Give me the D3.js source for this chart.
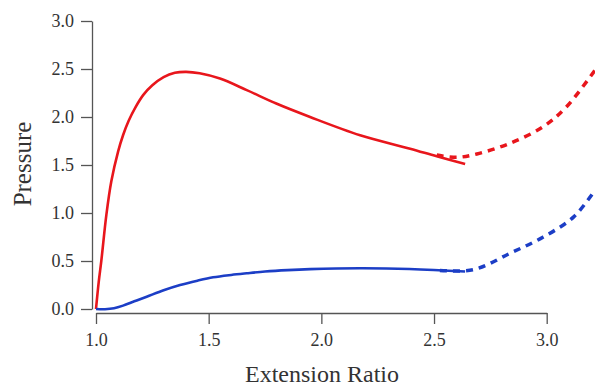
<!DOCTYPE html>
<html><head><meta charset="utf-8">
<script src="https://cdn.jsdelivr.net/npm/d3@7/dist/d3.min.js"></script>
<style>body{margin:0;background:#fff}svg{display:block}text{font-family:"Liberation Serif","Times New Roman",serif}</style>
</head><body><svg id="c" width="595" height="387"></svg>
<script>
const xTicks = [1.0, 1.5, 2.0, 2.5, 3.0];
const yTicks = [0.0, 0.5, 1.0, 1.5, 2.0, 2.5, 3.0];
const redSolidX = [1.0, 1.012, 1.024, 1.046, 1.068, 1.098, 1.12, 1.145, 1.175, 1.21, 1.25, 1.30, 1.35, 1.40, 1.46, 1.55, 1.669, 1.80, 1.95, 2.172, 2.394, 2.512, 2.638];
const redSolidY = [0.0, 0.28, 0.51, 0.98, 1.33, 1.64, 1.81, 1.96, 2.10, 2.23, 2.33, 2.415, 2.46, 2.47, 2.455, 2.40, 2.28, 2.14, 2.0, 1.81, 1.67, 1.59, 1.51];
const redDashX = [2.512, 2.601, 2.69, 2.837, 2.985, 3.088, 3.215];
const redDashY = [1.604, 1.58, 1.615, 1.726, 1.90, 2.107, 2.49];
const blueSolidX = [1.0, 1.04, 1.08, 1.12, 1.17, 1.225, 1.30, 1.373, 1.45, 1.52, 1.60, 1.669, 1.75, 1.85, 1.95, 2.17, 2.39, 2.638];
const blueSolidY = [0.0, -0.002, 0.008, 0.035, 0.08, 0.128, 0.195, 0.25, 0.295, 0.33, 0.355, 0.372, 0.39, 0.405, 0.415, 0.424, 0.417, 0.39];
const blueDashX = [2.5, 2.675, 2.837, 2.985, 3.12, 3.215];
const blueDashY = [0.405, 0.41, 0.58, 0.75, 0.96, 1.24];

const svg = d3.select("#c");
const x = d3.scaleLinear().domain([1, 3]).range([96, 546.7]);
const y = d3.scaleLinear().domain([0, 3]).range([309, 21]);
const axisCol = "#555", textCol = "#333";

const gx = svg.append("g").attr("transform", "translate(0,313)")
  .call(d3.axisBottom(x).tickValues(xTicks).tickFormat(d3.format(".1f")).tickSizeOuter(0).tickSizeInner(11).tickPadding(9));
const gy = svg.append("g").attr("transform", "translate(92,0)")
  .call(d3.axisLeft(y).tickValues(yTicks).tickFormat(d3.format(".1f")).tickSizeOuter(0).tickSizeInner(11).tickPadding(7));
[gx, gy].forEach(g => {
  g.select(".domain").attr("stroke", axisCol).attr("stroke-width", 1.3);
  g.selectAll(".tick line").attr("stroke", axisCol).attr("stroke-width", 1.3);
  g.selectAll(".tick text").attr("fill", textCol).style("font-size", "18px").style("font-family", "Liberation Serif, serif");
});

const line = d3.line().x(d => x(d[0])).y(d => y(d[1])).curve(d3.curveCatmullRom.alpha(0.5));
const zip = (a, b) => a.map((v, i) => [v, b[i]]);
const red = "#e8161c", blue = "#1c3ec6";
svg.append("path").attr("d", line(zip(redDashX, redDashY))).attr("fill", "none").attr("stroke", red).attr("stroke-width", 3.5).attr("stroke-dasharray", "7,6");
svg.append("path").attr("d", line(zip(blueDashX, blueDashY))).attr("fill", "none").attr("stroke", blue).attr("stroke-width", 3.5).attr("stroke-dasharray", "7,6").attr("stroke-dashoffset", -6);
svg.append("path").attr("d", line(zip(redSolidX, redSolidY))).attr("fill", "none").attr("stroke", red).attr("stroke-width", 2.6);
svg.append("path").attr("d", line(zip(blueSolidX, blueSolidY))).attr("fill", "none").attr("stroke", blue).attr("stroke-width", 2.6);

svg.append("text").attr("x", 322).attr("y", 382).attr("text-anchor", "middle").attr("fill", textCol).style("font-size", "24px").text("Extension Ratio");
svg.append("text").attr("transform", "translate(31,164) rotate(-90)").attr("text-anchor", "middle").attr("fill", textCol).style("font-size", "25px").text("Pressure");
</script></body></html>
